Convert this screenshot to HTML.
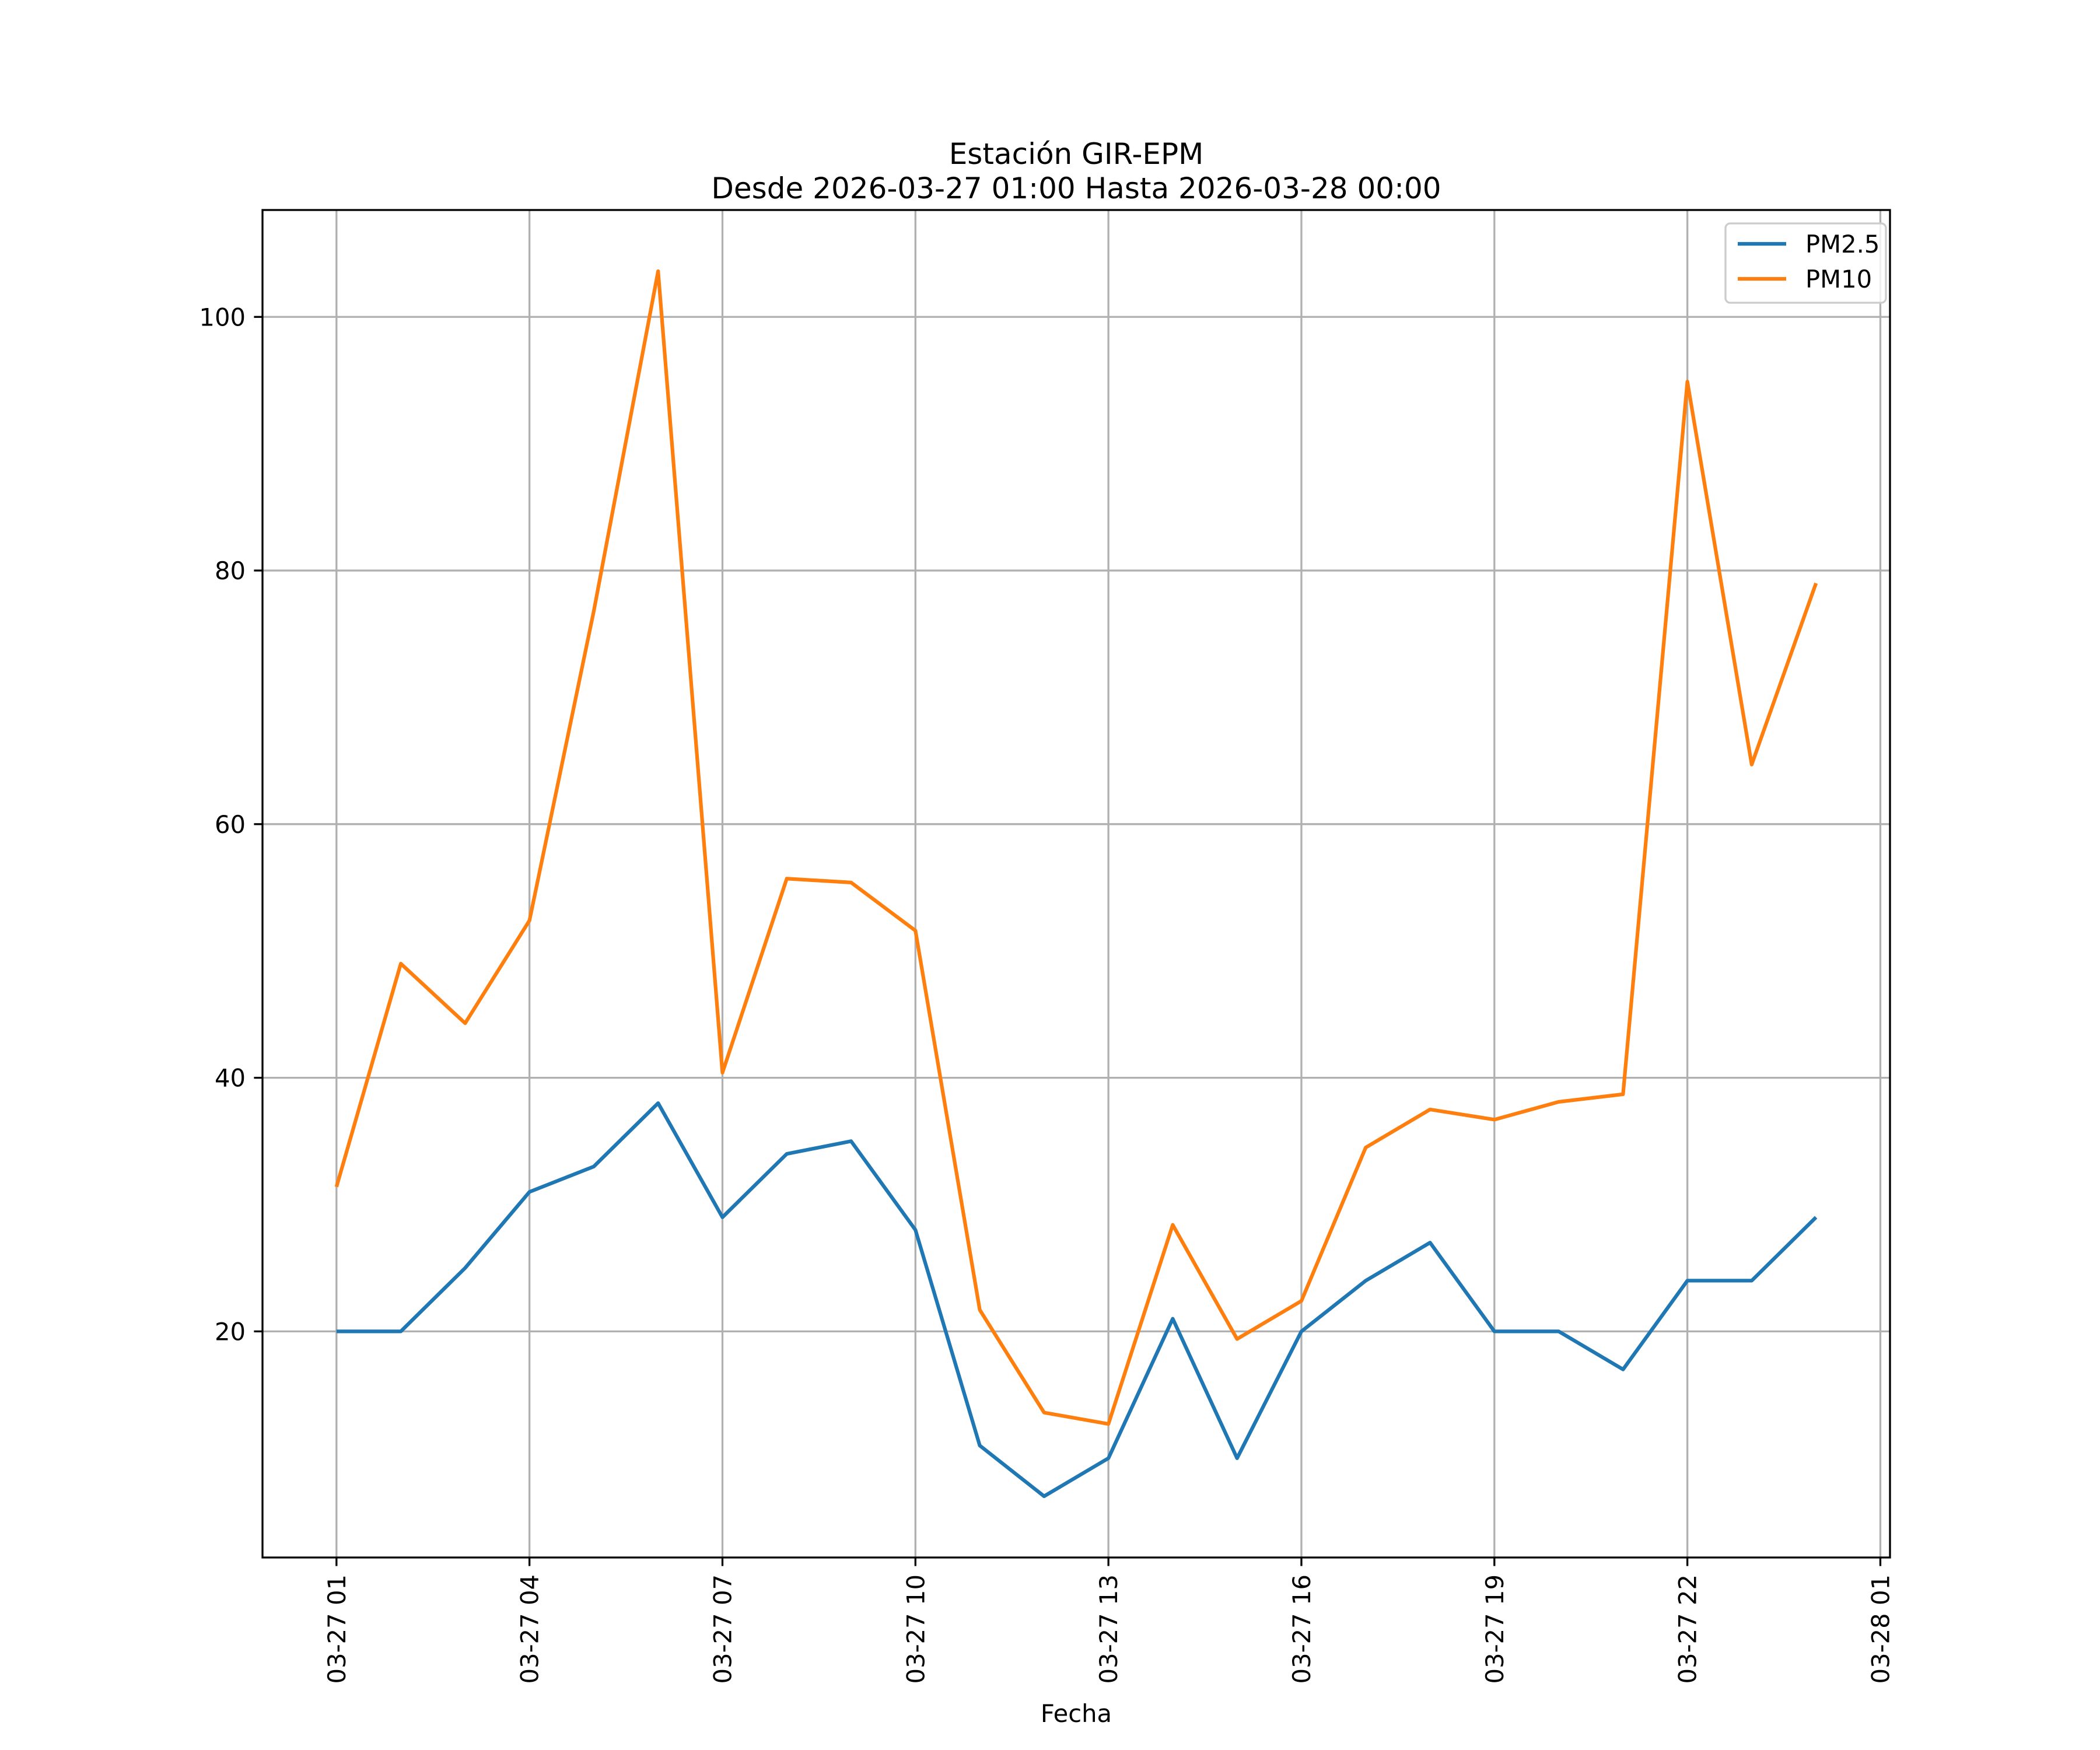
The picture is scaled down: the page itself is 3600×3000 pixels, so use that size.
<!DOCTYPE html>
<html><head><meta charset="utf-8"><style>body{margin:0;background:#fff}svg{display:block}text{font-family:"DejaVu Sans","Liberation Sans",sans-serif;fill:#000}</style></head>
<body>
<svg id="chart" width="3600" height="3000" xmlns="http://www.w3.org/2000/svg">
<rect width="3600" height="3000" fill="#fff"/>
<text x="1845" y="281" font-size="50" text-anchor="middle">Estación GIR-EPM</text>
<text x="1845" y="340" font-size="50" text-anchor="middle">Desde 2026-03-27 01:00 Hasta 2026-03-28 00:00</text>
<g id="grid"></g><g id="series"></g><g id="axes"></g>
<text x="1845" y="2952" font-size="41.7" text-anchor="middle">Fecha</text>
<g>
<rect x="2958" y="383" width="275" height="136" fill="#fff" fill-opacity="0.8" stroke="#ccc" stroke-width="3.3" rx="8"/>
<line x1="2979" y1="418" x2="3062" y2="418" stroke="#1f77b4" stroke-width="6.25"/>
<text x="3095" y="433" font-size="41.7">PM2.5</text>
<line x1="2979" y1="478" x2="3062" y2="478" stroke="#ff7f0e" stroke-width="6.25"/>
<text x="3095" y="493" font-size="41.7">PM10</text>
</g>
</svg>
<script>
const hours=[1,2,3,4,5,6,7,8,9,10,11,12,13,14,15,16,17,18,19,20,21,22,23,24];
const pm25=[20,20,25,31,33,38,29,34,35,28,11,7,10,21,10,20,24,27,20,20,17,24,24,29];
const pm10=[31.4,49,44.3,52.4,76.8,103.6,40.4,55.7,55.4,51.6,21.7,13.6,12.7,28.4,19.4,22.4,34.5,37.5,36.7,38.1,38.7,94.9,64.7,79.0];
const yTicks=[20,40,60,80,100];
const xTickHours=[1,4,7,10,13,16,19,22,25];
const xTickLabels=["03-27 01","03-27 04","03-27 07","03-27 10","03-27 13","03-27 16","03-27 19","03-27 22","03-28 01"];
const L=450,R=3240,T=360,B=2670;
const all=pm25.concat(pm10),mn=Math.min(...all),mx=Math.max(...all),pad=(mx-mn)*0.05;
const y0=mn-pad,y1=mx+pad;
const h0=hours[0]-(hours[hours.length-1]-hours[0])*0.05,h1=hours[hours.length-1]+(hours[hours.length-1]-hours[0])*0.05;
const X=h=>L+(h-h0)/(h1-h0)*(R-L);
const Y=v=>B-(v-y0)/(y1-y0)*(B-T);
const NS="http://www.w3.org/2000/svg";
function mk(t,a,p){const e=document.createElementNS(NS,t);for(const k in a)e.setAttribute(k,a[k]);p.appendChild(e);return e;}
const g=document.getElementById('grid'),s=document.getElementById('series'),ax=document.getElementById('axes');
xTickHours.forEach((h,i)=>{const x=X(h);
const gl=mk('line',{x1:x,x2:x,y1:T,y2:B,stroke:'#b0b0b0','stroke-width':3.3},g);

const tk=mk('line',{x1:x,x2:x,y1:B,y2:B+14.6,stroke:'#000','stroke-width':3.3},ax);

const tx=mk('text',{x:0,y:0,'font-size':41.7,'text-anchor':'end',transform:`translate(${x+15},${B+29}) rotate(-90)`},ax);
tx.textContent=xTickLabels[i];
});
yTicks.forEach(v=>{const y=Y(v);
const gl=mk('line',{x1:L,x2:R,y1:y,y2:y,stroke:'#b0b0b0','stroke-width':3.3},g);

const tk=mk('line',{x1:L-14.6,x2:L,y1:y,y2:y,stroke:'#000','stroke-width':3.3},ax);

const tx=mk('text',{x:L-29,y:y+15,'font-size':41.7,'text-anchor':'end'},ax);
tx.textContent=v;
});
const fr=mk('rect',{x:L,y:T,width:R-L,height:B-T,fill:'none',stroke:'#000','stroke-width':3.3},ax);

function line(d,c,n){const p=mk('polyline',{points:d.map((v,i)=>X(hours[i])+','+Y(v)).join(' '),fill:'none',stroke:c,'stroke-width':6.25,'stroke-linejoin':'round'},s);
}
line(pm25,'#1f77b4','pm25-line');line(pm10,'#ff7f0e','pm10-line');
</script>
</body></html>
